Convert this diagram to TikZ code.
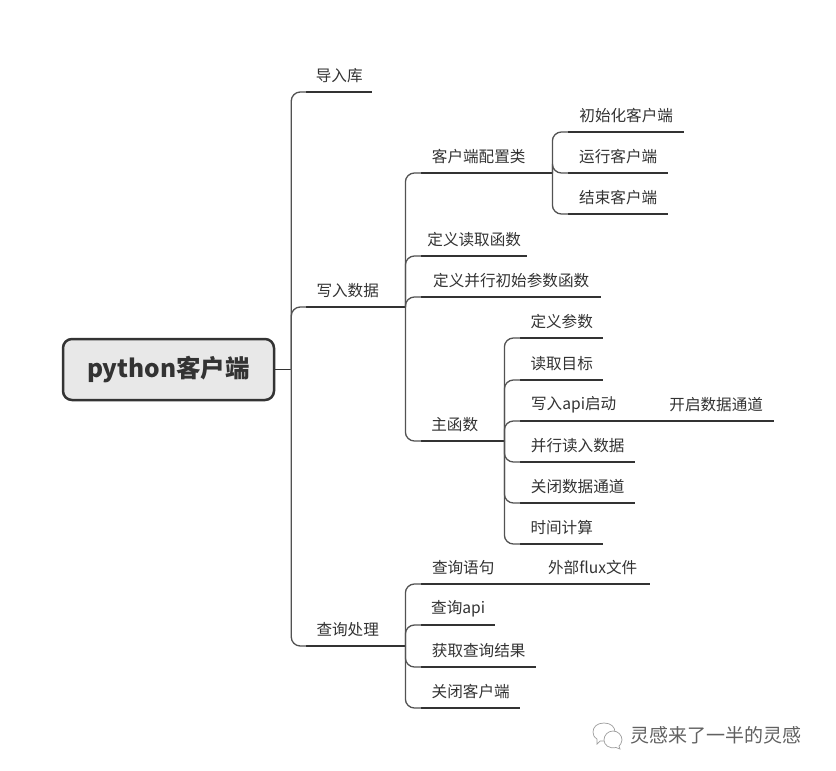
\documentclass[tikz,border=0pt]{standalone}
\usepackage{fontspec}
\setmainfont{Noto Sans CJK SC}
\usetikzlibrary{calc}
\definecolor{ink}{HTML}{333333}
\tikzset{
  topic/.style={inner sep=0pt,minimum height=32pt,text=ink,font=\fontsize{15.6}{18}\selectfont},
  uline/.style={draw=ink,line width=1.4pt},
  conn/.style={draw=ink!85,line width=1.3pt,rounded corners=9pt},
  stem/.style={draw=ink,line width=1.4pt},
  rootbox/.style={draw=ink,line width=2.5pt,fill=black!9,rounded corners=9pt,inner sep=0pt,text=ink,font=\fontsize{24.5}{28}\bfseries\selectfont},
  wmtext/.style={text=black!62,font=\fontsize{19}{22}\selectfont,inner sep=0pt},
  iconline/.style={draw=black!38,line width=.7pt,fill=white}
}
\newcommand\topic[5]{\node[topic,minimum width=#3pt,anchor=south west] (#1) at (#2,#4) {#5};\draw[uline] (#1.south west) -- (#1.south east);}
\newcommand\hub[2]{\coordinate (#1) at ($(#2.south east)+(16,0)$);\draw[stem] (#2.south east) -- (#1);}
\begin{document}
\begin{tikzpicture}[x=1pt,y=-1pt]
\useasboundingbox (0,0) rectangle (836,771);
\fill[white] (0,0) rectangle (836,771);
\node[rootbox,minimum width=211pt,minimum height=61pt] (root) at (168.5,369.5) {python客户端};
\coordinate (t0) at ($(root.east)+(16,0)$);
\draw[stem] (root.east) -- (t0);
% level 1
\topic{a}{306}{66}{92}{导入库}
\topic{b}{306}{83}{307}{写入数据}
\topic{c}{306}{83}{646}{查询处理}
\foreach \n in {a,b,c}{\draw[conn] (t0) |- (\n.south west);}
% write data
\hub{tb}{b}
\topic{b1}{421}{115}{173}{客户端配置类}
\topic{b2}{421}{106}{256}{定义读取函数}
\topic{b3}{421}{180}{297}{定义并行初始参数函数}
\topic{b4}{421}{67}{441}{主函数}
\foreach \n in {b1,b2,b3,b4}{\draw[conn] (tb) |- (\n.south west);}
% client class
\hub{tc}{b1}
\topic{c1}{568}{116}{132}{初始化客户端}
\topic{c2}{568}{100}{173}{运行客户端}
\topic{c3}{568}{100}{214}{结束客户端}
\foreach \n in {c1,c2,c3}{\draw[conn] (tc) |- (\n.south west);}
% main
\hub{tm}{b4}
\topic{m1}{520}{83}{338}{定义参数}
\topic{m2}{520}{83}{380}{读取目标}
\topic{m3}{520}{107}{421}{写入api启动}
\topic{m4}{520}{115}{462}{并行读入数据}
\topic{m5}{520}{115}{503}{关闭数据通道}
\topic{m6}{520}{83}{544}{时间计算}
\foreach \n in {m1,m2,m3,m4,m5,m6}{\draw[conn] (tm) |- (\n.south west);}
\topic{m31}{658}{116}{421}{开启数据通道}
\draw[stem] (m3.south east) -- (m31.south west);
% query
\hub{tq}{c}
\topic{q1}{421}{84}{584}{查询语句}
\topic{q2}{421}{74}{625}{查询api}
\topic{q3}{421}{115}{667}{获取查询结果}
\topic{q4}{421}{99}{708}{关闭客户端}
\foreach \n in {q1,q2,q3,q4}{\draw[conn] (tq) |- (\n.south west);}
\topic{q11}{535}{115}{584}{外部flux文件}
\draw[stem] (q1.south east) -- (q11.south west);
% watermark
\node[wmtext,anchor=west] (wm) at (630,735) {灵感来了一半的灵感};
\draw[iconline] (593,732) .. controls (593,727) and (597,723) .. (604,723) .. controls (611,723) and (615,727) .. (615,732) .. controls (615,737) and (611,741) .. (604,741) -- (600,741) -- (597,744) -- (597,739) .. controls (594,737) and (593,735) .. (593,732) -- cycle;
\draw[iconline] (604,740) .. controls (604,735) and (608,731) .. (613,731) .. controls (618,731) and (622,735) .. (622,740) .. controls (622,743) and (620,745) .. (619,746) -- (620,749) -- (616,747.5) .. controls (609,749) and (604,745) .. (604,740) -- cycle;
\end{tikzpicture}
\end{document}
